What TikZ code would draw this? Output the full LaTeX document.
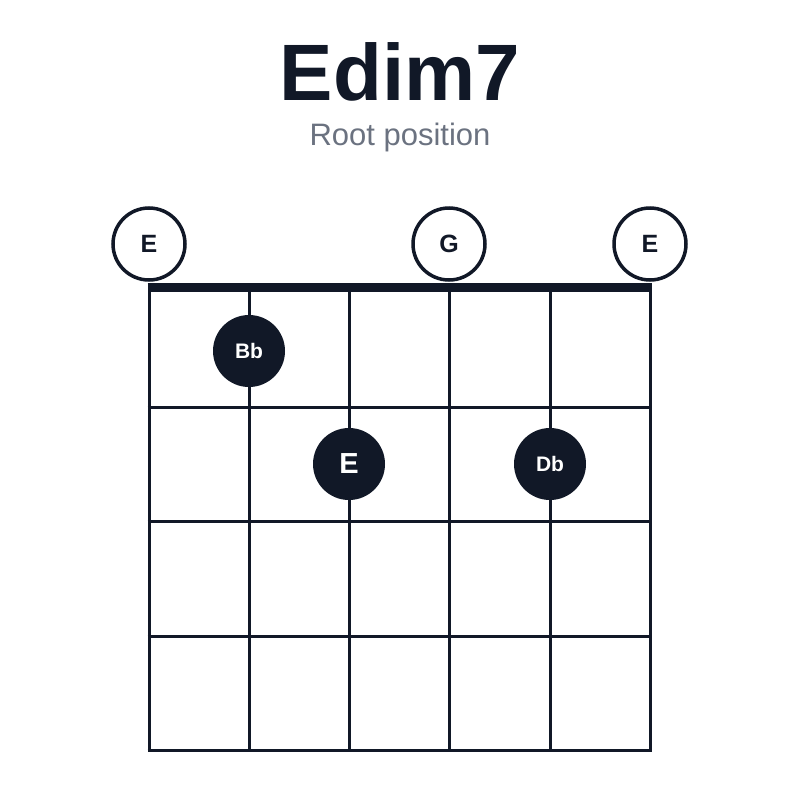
\documentclass[tikz,border=0pt]{standalone}
\usepackage{fontspec}
\setmainfont{Liberation Sans}
\definecolor{ink}{HTML}{111827}
\definecolor{subgray}{HTML}{6B7280}
\tikzset{
  open/.style={circle,draw=ink,line width=3.5pt,fill=white,minimum size=72pt,inner sep=0pt,font=\fontsize{25}{25}\selectfont\bfseries,text=ink},
  dot/.style={circle,fill=ink,minimum size=72pt,inner sep=0pt,text=white,font=\fontsize{21}{21}\selectfont\bfseries}
}
\begin{document}
\begin{tikzpicture}[x=1pt,y=-1pt]
  \useasboundingbox (0,0) rectangle (800,800);
  % title
  \node[font=\fontsize{80}{80}\selectfont\bfseries,text=ink] (title) at (400,72) {Edim7};
  \node[font=\fontsize{31}{31}\selectfont,text=subgray] (sub) at (400,137) {Root position};
  % grid
  \foreach \x in {149,249,349,449,550,650}
    \draw[ink,line width=3pt] (\x,287) -- (\x,751.5);
  \foreach \y in {407,521,636,750}
    \draw[ink,line width=3pt] (147.5,\y) -- (651.5,\y);
  \draw[ink,line width=9pt] (147.5,287) -- (651.5,287);
  % open strings
  \node[open] (o1) at (149,244) {E};
  \node[open] (o4) at (449,244) {G};
  \node[open] (o6) at (650,244) {E};
  % fingers
  \node[dot] (bb) at (249,351) {Bb};
  \node[dot,font=\fontsize{29}{29}\selectfont\bfseries] (e) at (349,464) {E};
  \node[dot] (db) at (550,464) {Db};
\end{tikzpicture}
\end{document}
